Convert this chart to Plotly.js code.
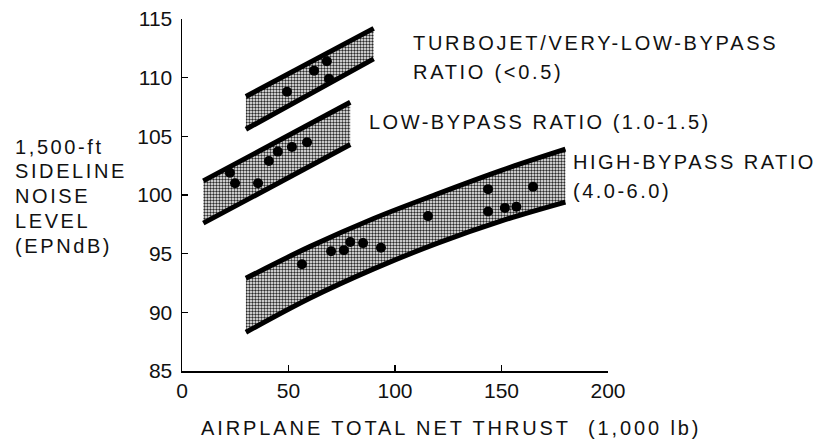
<!DOCTYPE html>
<html>
<head>
<meta charset="utf-8">
<script src="https://cdn.plot.ly/plotly-3.0.1.min.js"></script>
<style>html,body{margin:0;padding:0;background:#fff;}#chart{width:834px;height:443px;}</style>
</head>
<body>
<div id="chart"></div>
<script>
// ---- Data ----
// Turbojet / very-low-bypass band
var tjX = [30, 90];
var tjUpper = [108.4, 114.2];
var tjLower = [105.6, 111.6];
var tjPtsX = [49.3, 62, 68, 69];
var tjPtsY = [108.8, 110.6, 111.4, 109.9];

// Low-bypass band
var lbX = [10, 79];
var lbUpper = [101.2, 107.9];
var lbLower = [97.6, 104.3];
var lbPtsX = [22.5, 24.9, 35.7, 40.8, 45, 51.6, 58.7];
var lbPtsY = [101.9, 101.0, 101.0, 102.9, 103.7, 104.1, 104.5];

// High-bypass band
var hbX = [30, 60, 90, 120, 150, 180];
var hbUpper = [92.9, 95.6, 98.0, 100.1, 102.1, 103.9];
var hbLower = [88.3, 91.2, 93.7, 95.9, 97.8, 99.4];
var hbPtsX = [56.3, 70, 76, 79, 85, 93.4, 115.5, 143.7, 143.7, 151.6, 157, 164.8];
var hbPtsY = [94.1, 95.2, 95.3, 96.0, 95.9, 95.5, 98.2, 100.5, 98.6, 98.9, 99.0, 100.7];

var xTicks = [0, 50, 100, 150, 200];
var yTicks = [85, 90, 95, 100, 105, 110, 115];

var yTitleLines = ['1,500-ft', 'SIDELINE', 'NOISE', 'LEVEL', '(EPNdB)'];
var xTitle = 'AIRPLANE TOTAL NET THRUST&nbsp;&nbsp;(1,000 lb)';
var bandLabels = ['TURBOJET/VERY-LOW-BYPASS', 'RATIO (&lt;0.5)', 'LOW-BYPASS RATIO (1.0-1.5)', 'HIGH-BYPASS RATIO', '(4.0-6.0)'];

// ---- Layout helpers ----
var L = 182, R = 226, T = 19, B = 72, W = 834, H = 443;
var pw = W - L - R, ph = H - T - B;
function px(x) { return (x - L) / pw; }
function py(y) { return (H - B - y) / ph; }
function sp(t, s) { return '<span style="letter-spacing:' + s + 'px">' + t + '</span>'; }

var pattern = {shape: '.', size: 3, solidity: 0.5, fgcolor: '#2a2a2a', bgcolor: '#fff'};
var lineStyle = {color: '#000', width: 5};

function band(xs, lo, up, smooth) {
  var shp = smooth ? 'spline' : 'linear';
  return [
    {x: xs, y: lo, mode: 'lines', line: Object.assign({shape: shp}, lineStyle), hoverinfo: 'skip'},
    {x: xs, y: up, mode: 'lines', line: Object.assign({shape: shp}, lineStyle), fill: 'tonexty', fillcolor: '#999', fillpattern: pattern, hoverinfo: 'skip'}
  ];
}
function pts(xs, ys) {
  return {x: xs, y: ys, mode: 'markers', marker: {color: '#000', size: 10}, hoverinfo: 'skip'};
}

var traces = [].concat(
  band(tjX, tjLower, tjUpper, false),
  band(lbX, lbLower, lbUpper, false),
  band(hbX, hbLower, hbUpper, true),
  [pts(tjPtsX, tjPtsY), pts(lbPtsX, lbPtsY), pts(hbPtsX, hbPtsY)]
);

var font = {family: 'Liberation Sans, Arial, sans-serif', color: '#111'};
function ann(text, x, y, size, xanchor, ls) {
  return {text: sp(text, ls), xref: 'paper', yref: 'paper', x: px(x), y: py(y), xanchor: xanchor, yanchor: 'middle',
          showarrow: false, align: 'left', font: Object.assign({size: size}, font)};
}

var annotations = [];
var yLinePos = [147, 171, 196, 221, 246];
yTitleLines.forEach(function (t, i) { annotations.push(ann(t, 13, yLinePos[i], 20, 'left', 2.6)); });
annotations.push(ann(xTitle, 451, 428, 20, 'center', 2.9));
annotations.push(ann(bandLabels[0], 411, 43, 20, 'left', 2.7));
annotations.push(ann(bandLabels[1], 411, 72, 20, 'left', 2.7));
annotations.push(ann(bandLabels[2], 367, 122, 20, 'left', 2.5));
annotations.push(ann(bandLabels[3], 571, 162, 20, 'left', 2.5));
annotations.push(ann(bandLabels[4], 571, 191, 20, 'left', 2.5));

var layout = {
  width: W, height: H,
  margin: {l: L, r: R, t: T, b: B, pad: 0},
  paper_bgcolor: '#fff', plot_bgcolor: '#fff',
  showlegend: false,
  font: font,
  xaxis: {range: [0, 200], tickvals: xTicks, ticktext: xTicks.map(String), showgrid: false, zeroline: false,
          showline: true, linecolor: '#000', linewidth: 1.5, ticks: 'inside', ticklen: 6, tickwidth: 1.5, tickcolor: '#000',
          tickfont: Object.assign({size: 21}, font), fixedrange: true},
  yaxis: {range: [85, 115], tickvals: yTicks, ticktext: yTicks.map(String), showgrid: false, zeroline: false,
          showline: true, linecolor: '#000', linewidth: 1.5, ticks: 'inside', ticklen: 6, tickwidth: 1.5, tickcolor: '#000',
          tickfont: Object.assign({size: 21}, font), ticklabelstandoff: 4, fixedrange: true},
  annotations: annotations
};

Plotly.newPlot('chart', traces, layout, {staticPlot: true, displayModeBar: false});
</script>
</body>
</html>
